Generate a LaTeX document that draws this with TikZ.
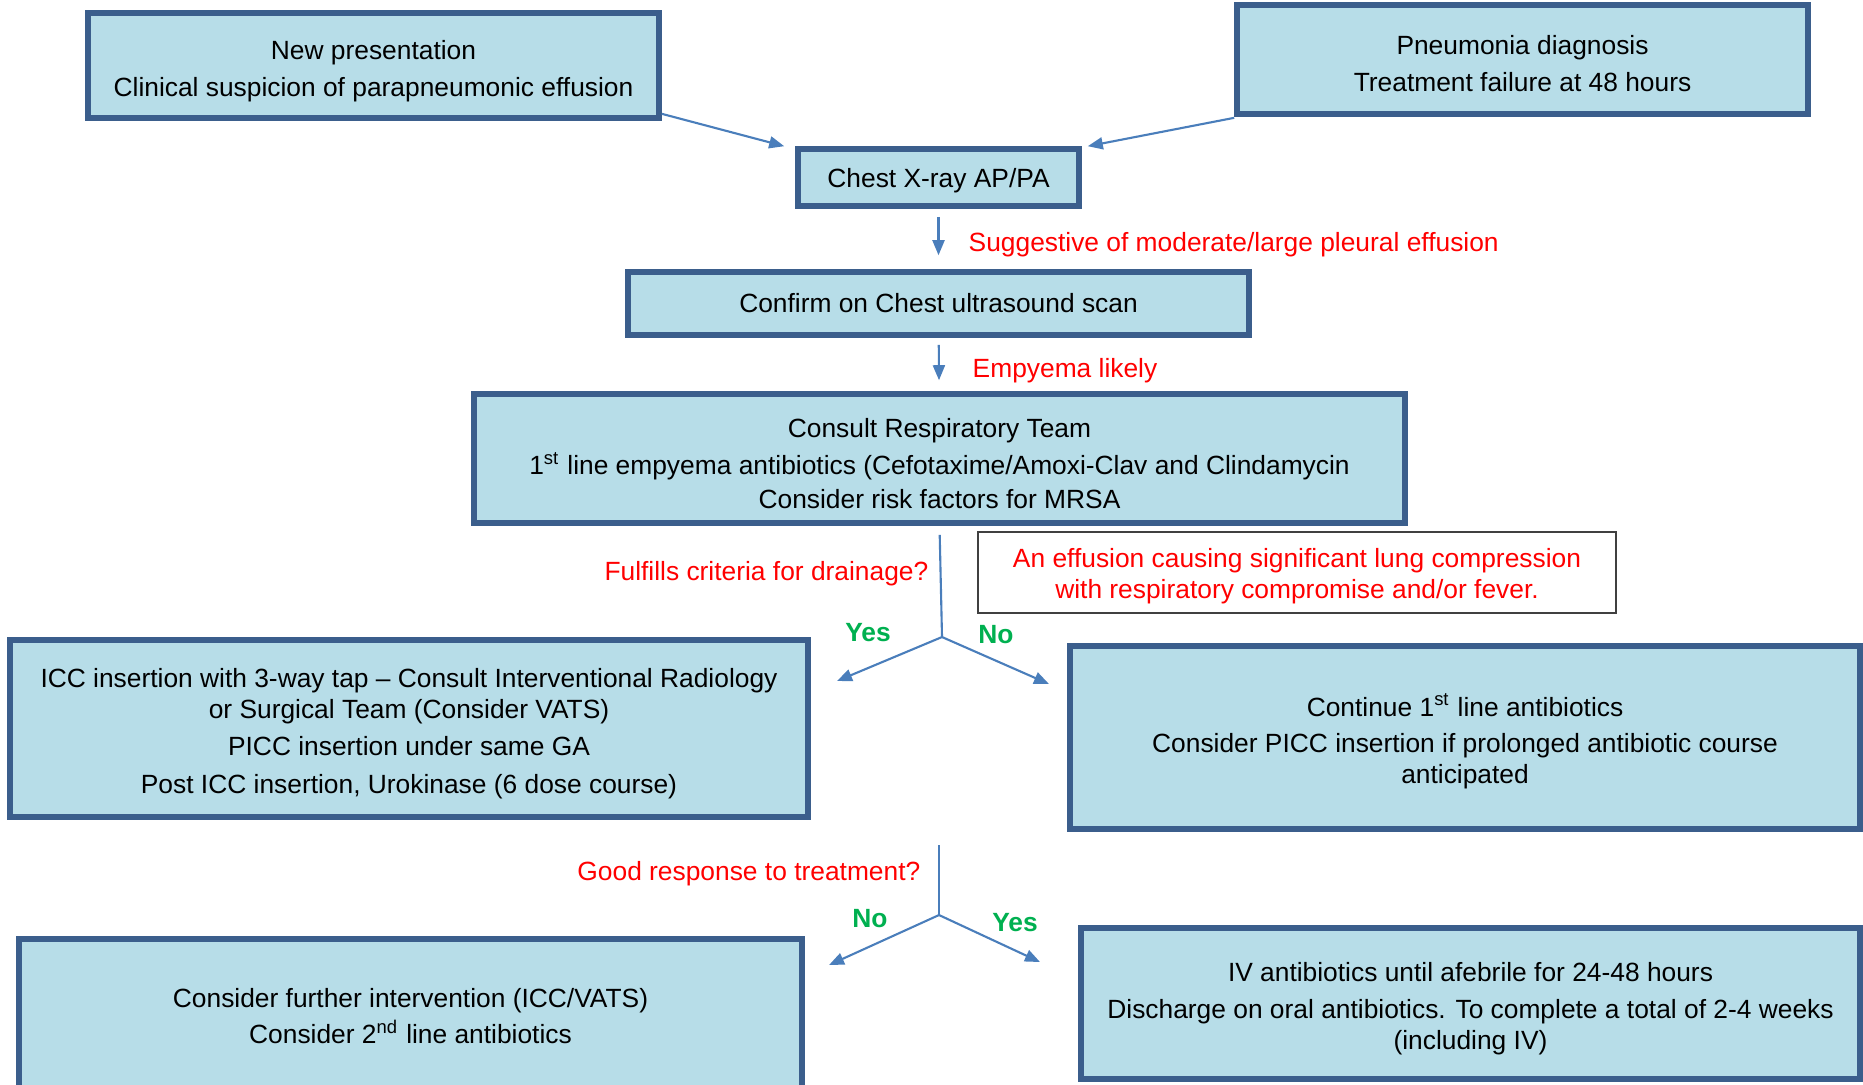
\documentclass[tikz,border=0pt]{standalone}
\usepackage{fontspec}
\setmainfont{Liberation Sans}
\usetikzlibrary{arrows.meta}
\definecolor{boxfill}{HTML}{B7DDE8}
\definecolor{boxline}{HTML}{3B5E8C}
\definecolor{flowblue}{HTML}{4A7EBB}
\definecolor{answergreen}{HTML}{00B050}
\definecolor{notegray}{HTML}{404040}
\newcommand\padtop{\rule{0pt}{8.5pt}}
\tikzset{
  box/.style={draw=boxline,fill=boxfill,line width=1.6pt,align=center,inner sep=0pt},
  flow/.style={color=flowblue,line width=0.6pt},
  cond/.style={color=red,inner sep=0pt},
  answer/.style={color=answergreen,inner sep=0pt,font=\fontsize{7.5}{8.8}\selectfont\bfseries},
}
\begin{document}
\begin{tikzpicture}[>={Triangle[length=0.15cm,width=0.12cm]},font=\fontsize{7.5}{8.8}\selectfont]

\useasboundingbox (0,0) rectangle (18.63,-10.84);

\node[box,minimum width=5.71cm,minimum height=1.05cm] (nA) at (3.735,-0.655)
  {\padtop New presentation\\[1.7pt]Clinical suspicion of parapneumonic effusion};
\node[box,minimum width=5.71cm,minimum height=1.09cm] (nB) at (15.225,-0.595)
  {\rule{0pt}{7.5pt}Pneumonia diagnosis\\[1.7pt]Treatment failure at 48 hours};
\node[box,minimum width=2.81cm,minimum height=0.57cm] (nC) at (9.385,-1.775)
  {\rule{0pt}{7pt}Chest X-ray AP/PA};
\node[box,minimum width=6.21cm,minimum height=0.63cm] (nD) at (9.385,-3.035)
  {Confirm on Chest ultrasound scan};
\node[box,minimum width=9.31cm,minimum height=1.29cm] (nE) at (9.395,-4.585)
  {\padtop Consult Respiratory Team\\[1.7pt]
   1\textsuperscript{st} line empyema antibiotics (Cefotaxime/Amoxi-Clav and Clindamycin\\[0.9pt]
   Consider risk factors for MRSA};
\node[draw=notegray,line width=0.4pt,minimum width=6.38cm,minimum height=0.81cm,align=center,text=red,inner sep=0pt] (nNote) at (12.97,-5.725)
  {\rule{0pt}{7.5pt}An effusion causing significant lung compression\\with respiratory compromise and/or fever.};
\node[box,minimum width=7.98cm,minimum height=1.77cm] (nF) at (4.09,-7.285)
  {\padtop ICC insertion with 3-way tap -- Consult Interventional Radiology\\
   or Surgical Team (Consider VATS)\\[1.7pt]
   PICC insertion under same GA\\[2pt]
   Post ICC insertion, Urokinase (6 dose course)};
\node[box,minimum width=7.90cm,minimum height=1.83cm] (nG) at (14.65,-7.375)
  {\padtop Continue 1\textsuperscript{st} line antibiotics\\[1.4pt]
   Consider PICC insertion if prolonged antibiotic course\\
   anticipated};
\node[box,minimum width=7.83cm,minimum height=1.54cm] (nH) at (4.105,-10.16)
  {Consider further intervention (ICC/VATS)\\[1.7pt]
   Consider 2\textsuperscript{nd} line antibiotics};
\node[box,minimum width=7.79cm,minimum height=1.51cm] (nI) at (14.705,-10.035)
  {\padtop IV antibiotics until afebrile for 24-48 hours\\[1.7pt]
   Discharge on oral antibiotics. To complete a total of 2-4 weeks\\
   (including IV)};

\coordinate (s1) at (9.42,-6.37);
\coordinate (s1l) at (8.37,-6.81);
\coordinate (s1r) at (10.49,-6.84);
\coordinate (t2) at (9.39,-8.45);
\coordinate (s2) at (9.39,-9.15);
\coordinate (s2l) at (8.29,-9.65);
\coordinate (s2r) at (10.40,-9.62);

\draw[->,flow] ([yshift=0.07cm]nA.south east) -- ([xshift=-0.11cm]nC.north west);
\draw[->,flow] ([yshift=-0.01cm]nB.south west) -- ([xshift=0.06cm]nC.north east);
\draw[->,flow,shorten <=0.08cm,shorten >=0.14cm] (nC) -- (nD);
\draw[->,flow,shorten <=0.07cm,shorten >=0.11cm] (nD) -- (nE);
\draw[flow,shorten <=0.09cm] (nE.south) -- (s1);
\draw[->,flow] (s1) -- (s1l);
\draw[->,flow] (s1) -- (s1r);
\draw[flow] (t2) -- (s2);
\draw[->,flow] (s2) -- (s2l);
\draw[->,flow] (s2) -- (s2r);

\node[cond,anchor=west] (lSugg) at (9.68,-2.45) {Suggestive of moderate/large pleural effusion};
\node[cond,anchor=west] (lEmp) at (9.72,-3.71) {Empyema likely};
\node[cond,anchor=east] (lDrain) at (9.29,-5.74) {Fulfills criteria for drainage?};
\node[answer] (lYes1) at (8.68,-6.33) {Yes};
\node[answer] (lNo1) at (9.96,-6.35) {No};
\node[cond,anchor=east] (lResp) at (9.21,-8.74) {Good response to treatment?};
\node[answer] (lNo2) at (8.70,-9.19) {No};
\node[answer] (lYes2) at (10.15,-9.23) {Yes};

\end{tikzpicture}
\end{document}
